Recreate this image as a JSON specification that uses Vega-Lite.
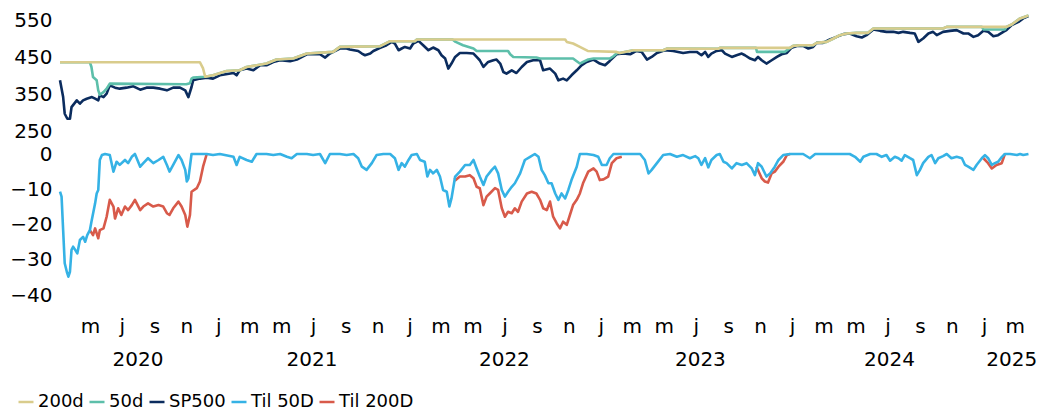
{
  "$schema": "https://vega.github.io/schema/vega-lite/v6.json",
  "padding": {"left": 5, "top": 10, "right": 5, "bottom": 0},
  "spacing": 23,
  "bounds": "flush",
  "config": {
    "view": {"stroke": null},
    "font": "DejaVu Sans",
    "axis": {"labelFont": "DejaVu Sans", "labelFontSize": 20, "labelColor": "#000", "grid": false, "domain": false, "ticks": false, "tickSize": 0, "labelFlush": false, "labelOverlap": false}
  },
  "datasets": {
    "sp": [
      {"d":"2020-03-05","v":387.7},{"d":"2020-03-11","v":342.2},{"d":"2020-03-14","v":296.9},{"d":"2020-03-19","v":283.3},{"d":"2020-03-24","v":283.3},{"d":"2020-03-27","v":314.9},{"d":"2020-04-06","v":333.2},{"d":"2020-04-12","v":324.2},{"d":"2020-04-18","v":333.2},{"d":"2020-04-25","v":337.8},{"d":"2020-05-05","v":342.2},{"d":"2020-05-11","v":337.8},{"d":"2020-05-17","v":333.2},{"d":"2020-05-20","v":346.8},{"d":"2020-05-27","v":342.2},{"d":"2020-06-02","v":351.5},{"d":"2020-06-08","v":374.1},{"d":"2020-06-18","v":367.8},{"d":"2020-06-27","v":365.1},{"d":"2020-07-10","v":367.8},{"d":"2020-07-23","v":371.4},{"d":"2020-08-05","v":362.4},{"d":"2020-08-17","v":367.8},{"d":"2020-08-30","v":367.8},{"d":"2020-09-12","v":365.1},{"d":"2020-09-25","v":360.5},{"d":"2020-10-07","v":367.8},{"d":"2020-10-20","v":367.8},{"d":"2020-10-30","v":360.5},{"d":"2020-11-05","v":342.2},{"d":"2020-11-11","v":369.6},{"d":"2020-11-14","v":387.7},{"d":"2020-11-27","v":392.4},{"d":"2020-12-10","v":395.1},{"d":"2020-12-22","v":392.4},
      {"d":"2021-01-04","v":401.4},{"d":"2021-01-30","v":407.6},{"d":"2021-02-05","v":401.4},{"d":"2021-02-11","v":415},{"d":"2021-02-24","v":419.6},{"d":"2021-03-09","v":415},{"d":"2021-03-22","v":428.6},{"d":"2021-04-03","v":428.6},{"d":"2021-04-16","v":437.6},{"d":"2021-04-29","v":442.3},{"d":"2021-05-18","v":439.5},{"d":"2021-05-31","v":444.2},{"d":"2021-06-19","v":458.6},{"d":"2021-07-14","v":458.6},{"d":"2021-07-24","v":449.6},{"d":"2021-08-02","v":460.5},{"d":"2021-08-21","v":474.2},{"d":"2021-09-03","v":474.2},{"d":"2021-09-09","v":471.5},{"d":"2021-09-25","v":467.6},{"d":"2021-10-02","v":460.5},{"d":"2021-10-08","v":455.9},{"d":"2021-10-18","v":460.5},{"d":"2021-10-24","v":467.6},{"d":"2021-11-06","v":475.8},{"d":"2021-11-18","v":483.2},{"d":"2021-11-28","v":492.2},{"d":"2021-12-04","v":487.8},{"d":"2021-12-11","v":469.5},{"d":"2021-12-17","v":474.2},{"d":"2021-12-23","v":478.5},
      {"d":"2022-01-02","v":474.2},{"d":"2022-01-08","v":487.8},{"d":"2022-01-18","v":494.9},{"d":"2022-01-27","v":483.2},{"d":"2022-02-06","v":469.5},{"d":"2022-02-15","v":476.9},{"d":"2022-02-25","v":469.5},{"d":"2022-03-03","v":455.9},{"d":"2022-03-10","v":446.9},{"d":"2022-03-16","v":419.6},{"d":"2022-03-22","v":433.3},{"d":"2022-03-29","v":451.3},{"d":"2022-04-07","v":462.2},{"d":"2022-04-20","v":462.2},{"d":"2022-05-03","v":460.5},{"d":"2022-05-09","v":451.3},{"d":"2022-05-15","v":442.3},{"d":"2022-05-22","v":424},{"d":"2022-05-31","v":437.6},{"d":"2022-06-10","v":442.3},{"d":"2022-06-16","v":444.2},{"d":"2022-06-23","v":433.3},{"d":"2022-06-29","v":410.4},{"d":"2022-07-05","v":406},{"d":"2022-07-15","v":415},{"d":"2022-07-24","v":407.6},{"d":"2022-08-03","v":424},{"d":"2022-08-13","v":437.6},{"d":"2022-08-25","v":442.3},{"d":"2022-09-07","v":442.3},{"d":"2022-09-13","v":415},{"d":"2022-09-26","v":419.6},{"d":"2022-10-06","v":406},{"d":"2022-10-12","v":387.7},{"d":"2022-10-21","v":392.4},{"d":"2022-10-28","v":387.7},{"d":"2022-11-06","v":401.4},{"d":"2022-11-16","v":415},{"d":"2022-11-25","v":428.6},{"d":"2022-12-05","v":437.6},{"d":"2022-12-18","v":444.2},{"d":"2022-12-30","v":433.3},
      {"d":"2023-01-09","v":428.6},{"d":"2023-01-18","v":440.4},{"d":"2023-01-31","v":458.6},{"d":"2023-02-13","v":460.5},{"d":"2023-02-26","v":458.6},{"d":"2023-03-10","v":467.6},{"d":"2023-03-20","v":464.9},{"d":"2023-03-30","v":444.2},{"d":"2023-04-08","v":451.3},{"d":"2023-04-18","v":462.2},{"d":"2023-05-03","v":469.5},{"d":"2023-05-19","v":467.6},{"d":"2023-06-07","v":462.2},{"d":"2023-06-20","v":464.9},{"d":"2023-07-03","v":464.9},{"d":"2023-07-12","v":455.9},{"d":"2023-07-19","v":464.9},{"d":"2023-07-25","v":451.3},{"d":"2023-07-31","v":460.5},{"d":"2023-08-10","v":467.6},{"d":"2023-08-20","v":469.5},{"d":"2023-08-26","v":460.5},{"d":"2023-09-08","v":451.3},{"d":"2023-09-17","v":455.9},{"d":"2023-09-27","v":460.5},{"d":"2023-10-03","v":455.9},{"d":"2023-10-13","v":446.9},{"d":"2023-10-22","v":442.3},{"d":"2023-10-28","v":451.3},{"d":"2023-11-04","v":442.3},{"d":"2023-11-13","v":433.3},{"d":"2023-11-23","v":442.3},{"d":"2023-12-03","v":451.3},{"d":"2023-12-12","v":458.6},{"d":"2023-12-22","v":462.2},{"d":"2023-12-31","v":476.5},
      {"d":"2024-01-10","v":481.2},{"d":"2024-01-22","v":481.3},{"d":"2024-02-01","v":474.2},{"d":"2024-02-10","v":478.5},{"d":"2024-02-17","v":489.5},{"d":"2024-02-29","v":489.5},{"d":"2024-03-13","v":498.7},{"d":"2024-03-26","v":505.8},{"d":"2024-04-08","v":513.2},{"d":"2024-04-20","v":515.1},{"d":"2024-05-03","v":507.7},{"d":"2024-05-13","v":504.2},{"d":"2024-05-22","v":510.5},{"d":"2024-06-04","v":526},{"d":"2024-06-17","v":522.2},{"d":"2024-06-29","v":519.5},{"d":"2024-07-12","v":519.5},{"d":"2024-07-22","v":516.7},{"d":"2024-07-31","v":519.5},{"d":"2024-08-13","v":516.7},{"d":"2024-08-22","v":515.1},{"d":"2024-08-29","v":492.2},{"d":"2024-09-07","v":501.5},{"d":"2024-09-17","v":515.1},{"d":"2024-09-26","v":519.5},{"d":"2024-10-03","v":510.5},{"d":"2024-10-15","v":519.5},{"d":"2024-10-28","v":522.2},{"d":"2024-11-10","v":524.1},{"d":"2024-11-23","v":515.1},{"d":"2024-12-02","v":515.1},{"d":"2024-12-12","v":505.8},{"d":"2024-12-21","v":510.5},{"d":"2024-12-31","v":522.2},
      {"d":"2025-01-09","v":519.5},{"d":"2025-01-19","v":507.7},{"d":"2025-01-28","v":510.5},{"d":"2025-02-07","v":519.5},{"d":"2025-02-13","v":524.1},{"d":"2025-02-23","v":537.7},{"d":"2025-03-08","v":546.7},{"d":"2025-03-17","v":556},{"d":"2025-03-27","v":562.3}
    ],
    "m50": [
      {"d":"2020-03-05","v":436.8},{"d":"2020-05-01","v":436.8},{"d":"2020-05-04","v":424},{"d":"2020-05-07","v":396.7},{"d":"2020-05-14","v":387.7},{"d":"2020-05-17","v":360.5},{"d":"2020-05-20","v":348.7},{"d":"2020-05-27","v":355.8},{"d":"2020-06-02","v":365},{"d":"2020-06-08","v":378.7},{"d":"2020-11-01","v":377},{"d":"2020-11-08","v":380},{"d":"2020-11-11","v":392.4},{"d":"2020-11-14","v":395.1},{"d":"2020-12-07","v":397.5},{"d":"2020-12-22","v":401.4},
      {"d":"2021-01-17","v":413.2},{"d":"2021-02-11","v":415},{"d":"2021-02-24","v":424},{"d":"2021-04-03","v":433.3},{"d":"2021-04-22","v":444.2},{"d":"2021-05-24","v":446.9},{"d":"2021-06-19","v":460.5},{"d":"2021-08-08","v":465},{"d":"2021-08-21","v":478.6},{"d":"2021-11-06","v":480.5},{"d":"2021-11-25","v":494.1},{"d":"2022-01-11","v":494.1},{"d":"2022-01-15","v":498.7},{"d":"2022-03-24","v":498.7},{"d":"2022-03-30","v":492.2},{"d":"2022-04-13","v":483.2},{"d":"2022-05-03","v":474.2},{"d":"2022-05-09","v":467.6},{"d":"2022-07-08","v":467.6},{"d":"2022-07-12","v":458.6},{"d":"2022-07-18","v":451.3},{"d":"2022-08-31","v":449.6},{"d":"2022-09-07","v":446.9},{"d":"2022-11-09","v":446.9},{"d":"2022-11-16","v":439.5},{"d":"2022-11-22","v":433.3},{"d":"2022-11-28","v":437.6},{"d":"2022-12-08","v":444.2},{"d":"2022-12-18","v":446.9},
      {"d":"2023-01-18","v":446.9},{"d":"2023-01-25","v":453.2},{"d":"2023-02-01","v":462.2},{"d":"2023-02-06","v":462.2},{"d":"2023-02-25","v":467.6},{"d":"2023-03-04","v":469.5},{"d":"2023-04-30","v":469.5},{"d":"2023-05-07","v":474},{"d":"2023-08-13","v":473.5},{"d":"2023-08-16","v":475.8},{"d":"2023-10-24","v":475.8},{"d":"2023-10-26","v":465},{"d":"2023-12-18","v":465},{"d":"2023-12-28","v":475.8},
      {"d":"2024-01-03","v":481.3},{"d":"2024-01-16","v":483.2},{"d":"2024-02-10","v":483.2},{"d":"2024-02-17","v":489.5},{"d":"2024-03-07","v":492.2},{"d":"2024-03-20","v":501.5},{"d":"2024-04-01","v":510.5},{"d":"2024-04-14","v":515.1},{"d":"2024-05-03","v":516.8},{"d":"2024-05-25","v":516.8},{"d":"2024-06-04","v":528.6},{"d":"2024-10-15","v":528.6},{"d":"2024-10-22","v":533.1},{"d":"2024-12-28","v":533.1},{"d":"2024-12-31","v":526},{"d":"2025-02-10","v":526},{"d":"2025-02-13","v":533.1},{"d":"2025-02-23","v":539.6},{"d":"2025-03-11","v":556},{"d":"2025-03-27","v":564}
    ],
    "m200": [
      {"d":"2020-03-05","v":436.8},{"d":"2020-11-27","v":436.8},{"d":"2020-12-03","v":420},{"d":"2020-12-07","v":397.5},{"d":"2020-12-22","v":401.4},
      {"d":"2021-01-17","v":413.2},{"d":"2021-02-11","v":415},{"d":"2021-02-24","v":424},{"d":"2021-04-03","v":433.3},{"d":"2021-04-22","v":444.2},{"d":"2021-05-24","v":446.9},{"d":"2021-06-19","v":460.5},{"d":"2021-08-08","v":465},{"d":"2021-08-21","v":478.6},{"d":"2021-11-06","v":480.5},{"d":"2021-11-25","v":494.1},{"d":"2022-01-11","v":494.1},{"d":"2022-01-15","v":498.7},{"d":"2022-10-25","v":498.7},{"d":"2022-10-28","v":492.2},{"d":"2022-11-09","v":487.8},{"d":"2022-11-22","v":478.6},{"d":"2022-12-07","v":467.6},
      {"d":"2023-01-31","v":465},{"d":"2023-02-06","v":462.2},{"d":"2023-02-25","v":467.6},{"d":"2023-03-04","v":469.5},{"d":"2023-04-30","v":469.5},{"d":"2023-05-07","v":474},{"d":"2023-08-13","v":473.5},{"d":"2023-08-16","v":475.8},{"d":"2023-12-28","v":475.8},
      {"d":"2024-01-03","v":481.3},{"d":"2024-01-16","v":483.2},{"d":"2024-02-10","v":483.2},{"d":"2024-02-17","v":489.5},{"d":"2024-03-07","v":492.2},{"d":"2024-03-20","v":501.5},{"d":"2024-04-01","v":510.5},{"d":"2024-04-14","v":515.1},{"d":"2024-05-03","v":516.8},{"d":"2024-05-25","v":516.8},{"d":"2024-06-04","v":528.6},{"d":"2024-10-15","v":528.6},{"d":"2024-10-22","v":533.1},{"d":"2025-02-13","v":533.1},{"d":"2025-02-23","v":539.6},{"d":"2025-03-11","v":556},{"d":"2025-03-27","v":564}
    ],
    "t50": [
      {"d":"2020-03-05","v":-10.7},{"d":"2020-03-08","v":-12.1},{"d":"2020-03-11","v":-21.6},{"d":"2020-03-14","v":-31.0},{"d":"2020-03-18","v":-33.4},{"d":"2020-03-21","v":-34.8},{"d":"2020-03-24","v":-33.4},{"d":"2020-03-27","v":-27.2},{"d":"2020-03-30","v":-26.3},{"d":"2020-04-03","v":-27.2},{"d":"2020-04-07","v":-28.2},{"d":"2020-04-12","v":-24.4},{"d":"2020-04-18","v":-23.5},{"d":"2020-04-22","v":-24.9},{"d":"2020-04-26","v":-23.0},{"d":"2020-05-01","v":-21.6},{"d":"2020-05-04","v":-19.2},{"d":"2020-05-11","v":-14.0},{"d":"2020-05-14","v":-11.2},{"d":"2020-05-17","v":-10.2},{"d":"2020-05-20","v":-1.7},{"d":"2020-05-24","v":-0.3},{"d":"2020-05-30","v":0},{"d":"2020-06-08","v":-0.3},{"d":"2020-06-15","v":-5.0},{"d":"2020-06-21","v":-2.2},{"d":"2020-06-27","v":-3.1},{"d":"2020-07-07","v":-1.7},{"d":"2020-07-13","v":-2.6},{"d":"2020-07-20","v":-0.8},{"d":"2020-07-26","v":0},{"d":"2020-08-05","v":-3.6},{"d":"2020-08-11","v":-2.6},{"d":"2020-08-20","v":-1.2},{"d":"2020-08-30","v":-2.6},{"d":"2020-09-09","v":-1.7},{"d":"2020-09-18","v":-0.8},{"d":"2020-09-25","v":-3.1},{"d":"2020-09-30","v":-5.0},{"d":"2020-10-07","v":-3.1},{"d":"2020-10-17","v":-0.3},{"d":"2020-10-23","v":-1.7},{"d":"2020-10-30","v":-4.5},{"d":"2020-11-02","v":-7.8},{"d":"2020-11-05","v":-6.9},{"d":"2020-11-11","v":0},{"d":"2020-11-21","v":0},{"d":"2020-12-10","v":0},{"d":"2020-12-22","v":-0.3},
      {"d":"2021-01-04","v":0},{"d":"2021-01-30","v":-0.8},{"d":"2021-02-05","v":-3.1},{"d":"2021-02-11","v":-0.8},{"d":"2021-02-24","v":-1.7},{"d":"2021-03-06","v":-2.2},{"d":"2021-03-15","v":0},{"d":"2021-04-03","v":0},{"d":"2021-04-16","v":-0.3},{"d":"2021-04-29","v":0},{"d":"2021-05-12","v":-0.8},{"d":"2021-05-21","v":-1.2},{"d":"2021-05-31","v":0},{"d":"2021-06-19","v":0},{"d":"2021-07-01","v":-0.3},{"d":"2021-07-14","v":0},{"d":"2021-07-24","v":-2.6},{"d":"2021-08-02","v":0},{"d":"2021-08-21","v":0},{"d":"2021-09-03","v":-0.3},{"d":"2021-09-16","v":0},{"d":"2021-09-25","v":-1.2},{"d":"2021-10-02","v":-3.6},{"d":"2021-10-11","v":-4.5},{"d":"2021-10-21","v":-2.6},{"d":"2021-10-30","v":-0.3},{"d":"2021-11-12","v":0},{"d":"2021-11-25","v":0},{"d":"2021-12-04","v":-1.2},{"d":"2021-12-11","v":-4.5},{"d":"2021-12-17","v":-2.6},{"d":"2021-12-23","v":-3.6},{"d":"2021-12-30","v":-1.7},
      {"d":"2022-01-05","v":-0.3},{"d":"2022-01-15","v":0},{"d":"2022-01-21","v":-1.7},{"d":"2022-01-30","v":-2.2},{"d":"2022-02-04","v":-6.4},{"d":"2022-02-09","v":-4.5},{"d":"2022-02-15","v":-5.5},{"d":"2022-02-22","v":-4.5},{"d":"2022-02-28","v":-6.4},{"d":"2022-03-06","v":-10.2},{"d":"2022-03-13","v":-10.7},{"d":"2022-03-18","v":-14.9},{"d":"2022-03-22","v":-12.6},{"d":"2022-03-29","v":-6.4},{"d":"2022-04-07","v":-5.0},{"d":"2022-04-17","v":-3.1},{"d":"2022-04-26","v":-3.1},{"d":"2022-05-03","v":-1.7},{"d":"2022-05-09","v":-4.1},{"d":"2022-05-15","v":-6.4},{"d":"2022-05-22","v":-8.8},{"d":"2022-05-28","v":-6.4},{"d":"2022-06-07","v":-4.5},{"d":"2022-06-13","v":-3.6},{"d":"2022-06-19","v":-5.5},{"d":"2022-06-26","v":-10.2},{"d":"2022-07-02","v":-12.1},{"d":"2022-07-08","v":-10.7},{"d":"2022-07-15","v":-9.3},{"d":"2022-07-21","v":-8.3},{"d":"2022-07-31","v":-5.5},{"d":"2022-08-09","v":-1.7},{"d":"2022-08-19","v":-0.8},{"d":"2022-08-28","v":0},{"d":"2022-09-04","v":-0.8},{"d":"2022-09-10","v":-4.5},{"d":"2022-09-16","v":-6.0},{"d":"2022-09-23","v":-8.3},{"d":"2022-09-29","v":-8.3},{"d":"2022-10-06","v":-11.2},{"d":"2022-10-12","v":-13.0},{"d":"2022-10-18","v":-11.2},{"d":"2022-10-25","v":-12.6},{"d":"2022-10-31","v":-10.2},{"d":"2022-11-06","v":-7.4},{"d":"2022-11-16","v":-3.6},{"d":"2022-11-22","v":0},{"d":"2022-12-05","v":0},{"d":"2022-12-18","v":-0.3},{"d":"2022-12-27","v":-0.8},
      {"d":"2023-01-03","v":-3.1},{"d":"2023-01-12","v":-3.1},{"d":"2023-01-18","v":-1.2},{"d":"2023-01-25","v":0},{"d":"2023-02-06","v":0},{"d":"2023-02-19","v":0},{"d":"2023-03-04","v":0},{"d":"2023-03-17","v":0},{"d":"2023-03-26","v":-1.7},{"d":"2023-04-02","v":-5.5},{"d":"2023-04-08","v":-4.5},{"d":"2023-04-18","v":-2.6},{"d":"2023-04-30","v":-0.3},{"d":"2023-05-13","v":0},{"d":"2023-05-26","v":-0.8},{"d":"2023-06-07","v":-0.3},{"d":"2023-06-20","v":-1.2},{"d":"2023-06-30","v":-0.6},{"d":"2023-07-06","v":-1.2},{"d":"2023-07-12","v":-3.1},{"d":"2023-07-19","v":-1.2},{"d":"2023-07-25","v":-3.8},{"d":"2023-07-31","v":-1.7},{"d":"2023-08-10","v":-0.3},{"d":"2023-08-16","v":0},{"d":"2023-08-23","v":-2.2},{"d":"2023-08-29","v":-2.6},{"d":"2023-09-08","v":-4.1},{"d":"2023-09-17","v":-2.6},{"d":"2023-09-27","v":-3.1},{"d":"2023-10-06","v":-2.6},{"d":"2023-10-16","v":-4.1},{"d":"2023-10-22","v":-6.0},{"d":"2023-10-28","v":-2.6},{"d":"2023-11-04","v":-3.6},{"d":"2023-11-13","v":-6.4},{"d":"2023-11-20","v":-5.5},{"d":"2023-11-29","v":-3.6},{"d":"2023-12-06","v":-1.7},{"d":"2023-12-15","v":-0.3},{"d":"2023-12-28","v":0},
      {"d":"2024-01-10","v":0},{"d":"2024-01-22","v":0},{"d":"2024-02-04","v":-1.2},{"d":"2024-02-14","v":0},{"d":"2024-02-29","v":0},{"d":"2024-03-26","v":0},{"d":"2024-04-20","v":0},{"d":"2024-04-30","v":-0.8},{"d":"2024-05-10","v":-2.2},{"d":"2024-05-16","v":-0.8},{"d":"2024-05-29","v":0},{"d":"2024-06-10","v":0},{"d":"2024-06-20","v":-0.8},{"d":"2024-06-29","v":-0.3},{"d":"2024-07-06","v":-1.9},{"d":"2024-07-15","v":-0.8},{"d":"2024-07-22","v":-1.2},{"d":"2024-07-28","v":-1.9},{"d":"2024-08-03","v":-0.3},{"d":"2024-08-13","v":-1.2},{"d":"2024-08-19","v":-1.7},{"d":"2024-08-26","v":-6.0},{"d":"2024-09-01","v":-4.5},{"d":"2024-09-07","v":-2.6},{"d":"2024-09-17","v":-0.8},{"d":"2024-09-23","v":-0.3},{"d":"2024-09-30","v":-2.6},{"d":"2024-10-06","v":-1.2},{"d":"2024-10-15","v":-0.6},{"d":"2024-10-22","v":0},{"d":"2024-10-31","v":-1.2},{"d":"2024-11-10","v":-0.8},{"d":"2024-11-20","v":-1.2},{"d":"2024-11-26","v":-3.1},{"d":"2024-12-02","v":-3.6},{"d":"2024-12-12","v":-4.5},{"d":"2024-12-18","v":-3.1},{"d":"2024-12-28","v":-1.2},
      {"d":"2025-01-03","v":-0.3},{"d":"2025-01-09","v":-1.2},{"d":"2025-01-16","v":-3.1},{"d":"2025-01-22","v":-2.6},{"d":"2025-01-28","v":-2.2},{"d":"2025-02-04","v":-0.9},{"d":"2025-02-10","v":0},{"d":"2025-02-20","v":0},{"d":"2025-03-05","v":-0.3},{"d":"2025-03-11","v":0},{"d":"2025-03-17","v":-0.3},{"d":"2025-03-27","v":0}
    ],
    "t200": [
      {"s":"a","d":"2020-05-01","v":-21.6},{"s":"a","d":"2020-05-07","v":-23.0},{"s":"a","d":"2020-05-11","v":-21.1},{"s":"a","d":"2020-05-17","v":-23.9},{"s":"a","d":"2020-05-20","v":-21.6},{"s":"a","d":"2020-05-27","v":-21.1},{"s":"a","d":"2020-06-02","v":-17.8},{"s":"a","d":"2020-06-08","v":-13.0},{"s":"a","d":"2020-06-15","v":-14.9},{"s":"a","d":"2020-06-18","v":-18.3},{"s":"a","d":"2020-06-24","v":-15.4},{"s":"a","d":"2020-06-30","v":-17.3},{"s":"a","d":"2020-07-07","v":-14.9},{"s":"a","d":"2020-07-13","v":-15.9},{"s":"a","d":"2020-07-20","v":-14.5},{"s":"a","d":"2020-07-26","v":-13.0},{"s":"a","d":"2020-08-05","v":-15.9},{"s":"a","d":"2020-08-11","v":-14.9},{"s":"a","d":"2020-08-20","v":-14.0},{"s":"a","d":"2020-08-30","v":-14.9},{"s":"a","d":"2020-09-09","v":-14.5},{"s":"a","d":"2020-09-18","v":-14.9},{"s":"a","d":"2020-09-25","v":-16.8},{"s":"a","d":"2020-09-30","v":-17.3},{"s":"a","d":"2020-10-07","v":-15.4},{"s":"a","d":"2020-10-17","v":-13.5},{"s":"a","d":"2020-10-23","v":-14.9},{"s":"a","d":"2020-10-30","v":-17.3},{"s":"a","d":"2020-11-03","v":-20.6},{"s":"a","d":"2020-11-08","v":-17.3},{"s":"a","d":"2020-11-11","v":-10.7},{"s":"a","d":"2020-11-21","v":-9.7},{"s":"a","d":"2020-11-27","v":-7.8},{"s":"a","d":"2020-12-03","v":-3.6},{"s":"a","d":"2020-12-10","v":0},
      {"s":"b","d":"2022-03-28","v":-6.8},{"s":"b","d":"2022-03-30","v":-7.4},{"s":"b","d":"2022-04-07","v":-6.4},{"s":"b","d":"2022-04-17","v":-6.4},{"s":"b","d":"2022-04-26","v":-6.0},{"s":"b","d":"2022-05-03","v":-6.9},{"s":"b","d":"2022-05-09","v":-9.3},{"s":"b","d":"2022-05-15","v":-9.7},{"s":"b","d":"2022-05-22","v":-14.5},{"s":"b","d":"2022-05-28","v":-12.1},{"s":"b","d":"2022-06-03","v":-11.2},{"s":"b","d":"2022-06-13","v":-9.7},{"s":"b","d":"2022-06-19","v":-10.2},{"s":"b","d":"2022-06-26","v":-15.4},{"s":"b","d":"2022-07-02","v":-17.8},{"s":"b","d":"2022-07-08","v":-16.4},{"s":"b","d":"2022-07-15","v":-16.8},{"s":"b","d":"2022-07-21","v":-15.4},{"s":"b","d":"2022-07-27","v":-16.4},{"s":"b","d":"2022-08-03","v":-13.5},{"s":"b","d":"2022-08-13","v":-11.2},{"s":"b","d":"2022-08-22","v":-10.7},{"s":"b","d":"2022-08-31","v":-11.2},{"s":"b","d":"2022-09-07","v":-13.0},{"s":"b","d":"2022-09-13","v":-15.4},{"s":"b","d":"2022-09-20","v":-15.9},{"s":"b","d":"2022-09-26","v":-13.5},{"s":"b","d":"2022-10-02","v":-17.8},{"s":"b","d":"2022-10-09","v":-19.7},{"s":"b","d":"2022-10-15","v":-21.1},{"s":"b","d":"2022-10-21","v":-19.2},{"s":"b","d":"2022-10-28","v":-20.1},{"s":"b","d":"2022-11-03","v":-17.3},{"s":"b","d":"2022-11-09","v":-14.5},{"s":"b","d":"2022-11-16","v":-13.0},{"s":"b","d":"2022-11-22","v":-11.2},{"s":"b","d":"2022-11-28","v":-8.3},{"s":"b","d":"2022-12-08","v":-5.0},{"s":"b","d":"2022-12-18","v":-4.1},{"s":"b","d":"2022-12-24","v":-5.0},{"s":"b","d":"2022-12-30","v":-7.4},{"s":"b","d":"2023-01-06","v":-7.2},{"s":"b","d":"2023-01-15","v":-6.4},{"s":"b","d":"2023-01-22","v":-2.6},{"s":"b","d":"2023-01-31","v":-1.2},{"s":"b","d":"2023-02-10","v":-0.8},
      {"s":"c","d":"2023-10-25","v":-3.6},{"s":"c","d":"2023-11-04","v":-6.9},{"s":"c","d":"2023-11-10","v":-7.8},{"s":"c","d":"2023-11-16","v":-8.1},{"s":"c","d":"2023-11-23","v":-5.5},{"s":"c","d":"2023-11-29","v":-5.0},{"s":"c","d":"2023-12-06","v":-3.6},{"s":"c","d":"2023-12-15","v":-2.2},{"s":"c","d":"2023-12-22","v":-0.3},{"s":"c","d":"2023-12-28","v":0},
      {"s":"d","d":"2024-12-31","v":-1.2},{"s":"d","d":"2025-01-09","v":-2.6},{"s":"d","d":"2025-01-16","v":-4.1},{"s":"d","d":"2025-01-25","v":-3.1},{"s":"d","d":"2025-02-04","v":-2.6},{"s":"d","d":"2025-02-10","v":0}
    ],
    "years": [
      {"d":"2020-07-31","y":"2020"},{"d":"2021-06-28","y":"2021"},{"d":"2022-06-30","y":"2022"},{"d":"2023-07-09","y":"2023"},{"d":"2024-07-04","y":"2024"},{"d":"2025-02-22","y":"2025"}
    ]
  },
  "vconcat": [
    {
      "width": 980,
      "height": 117,
      "layer": [
        {
          "data": {"name": "sp"},
          "mark": {"type": "line", "strokeWidth": 2.6, "strokeJoin": "round", "clip": false},
          "encoding": {
            "x": {"field": "d", "type": "temporal", "scale": {"domain": [{"year": 2020, "month": 3, "date": 5}, {"year": 2025, "month": 4, "date": 18}], "nice": false}, "axis": null},
            "y": {"field": "v", "type": "quantitative", "scale": {"domain": [250, 568], "nice": false, "zero": false}, "axis": {"values": [250, 350, 450, 550], "tickCount": 20, "labelOverlap": false, "labelPadding": 8, "minExtent": 55, "maxExtent": 55, "title": null}},
            "color": {
              "datum": "SP500",
              "scale": {"domain": ["200d", "50d", "SP500", "Til 50D", "Til 200D"], "range": ["#D9CC8C", "#5DBFAA", "#0B2C5E", "#35B2E5", "#D85A4A"]},
              "legend": {"orient": "none", "legendX": -43, "legendY": 379, "direction": "horizontal", "title": null, "symbolType": "stroke", "symbolSize": 225, "symbolStrokeWidth": 2.5, "labelFont": "DejaVu Sans", "labelFontSize": 18, "labelColor": "#000", "labelOffset": 3, "columnPadding": 0, "padding": 0}
            }
          }
        },
        {
          "data": {"name": "m50"},
          "mark": {"type": "line", "strokeWidth": 2.6, "strokeJoin": "round", "clip": false},
          "encoding": {
            "x": {"field": "d", "type": "temporal", "axis": null},
            "y": {"field": "v", "type": "quantitative"},
            "color": {"datum": "50d"}
          }
        },
        {
          "data": {"name": "m200"},
          "mark": {"type": "line", "strokeWidth": 2.6, "strokeJoin": "round", "clip": false},
          "encoding": {
            "x": {"field": "d", "type": "temporal", "axis": null},
            "y": {"field": "v", "type": "quantitative"},
            "color": {"datum": "200d"}
          }
        }
      ]
    },
    {
      "width": 980,
      "height": 141,
      "resolve": {"axis": {"x": "independent"}},
      "layer": [
        {
          "data": {"name": "t200"},
          "mark": {"type": "line", "strokeWidth": 2.6, "strokeJoin": "round", "clip": false},
          "encoding": {
            "x": {"field": "d", "type": "temporal", "scale": {"domain": [{"year": 2020, "month": 3, "date": 5}, {"year": 2025, "month": 4, "date": 18}], "nice": false},
                  "axis": {"orient": "bottom", "tickCount": {"interval": "month", "step": 2}, "labelExpr": "lower(slice(timeFormat(datum.value, '%b'), 0, 1))", "labelOverlap": false, "labelPadding": 21, "title": null}},
            "y": {"field": "v", "type": "quantitative", "scale": {"domain": [-40, 0], "nice": false, "zero": false}, "axis": {"values": [0, -10, -20, -30, -40], "tickCount": 20, "labelOverlap": false, "labelPadding": 8, "minExtent": 55, "maxExtent": 55, "title": null}},
            "detail": {"field": "s"},
            "color": {"datum": "Til 200D"}
          }
        },
        {
          "data": {"name": "t50"},
          "mark": {"type": "line", "strokeWidth": 2.6, "strokeJoin": "round", "clip": false},
          "encoding": {
            "x": {"field": "d", "type": "temporal", "axis": null},
            "y": {"field": "v", "type": "quantitative"},
            "color": {"datum": "Til 50D"}
          }
        },
        {
          "data": {"name": "years"},
          "mark": {"type": "rule", "opacity": 0},
          "encoding": {
            "x": {"field": "d", "type": "temporal",
                  "axis": {"orient": "bottom", "values": [{"year": 2020, "month": 7, "date": 31}, {"year": 2021, "month": 6, "date": 28}, {"year": 2022, "month": 6, "date": 30}, {"year": 2023, "month": 7, "date": 9}, {"year": 2024, "month": 7, "date": 4}, {"year": 2025, "month": 2, "date": 22}], "tickCount": 20, "labelExpr": "timeFormat(datum.value, '%Y')", "labelOverlap": false, "labelPadding": 54, "title": null}}
          }
        }
      ]
    }
  ]
}
